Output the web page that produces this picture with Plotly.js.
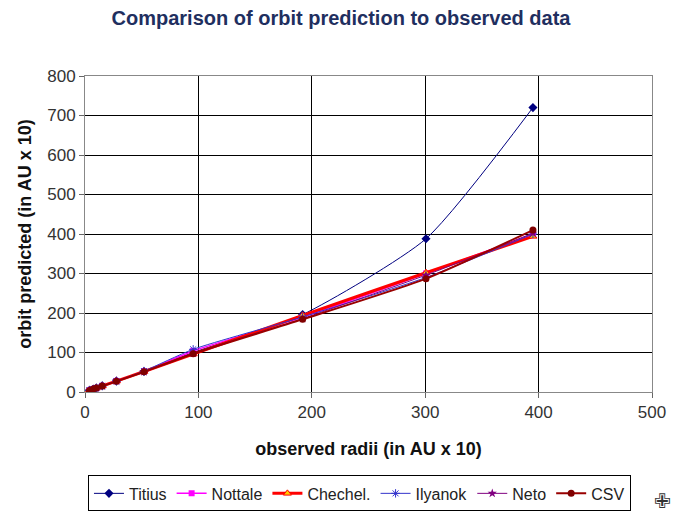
<!DOCTYPE html>
<html>
<head>
<meta charset="utf-8">
<script src="https://cdn.plot.ly/plotly-3.0.1.min.js"></script>
<style>html,body{margin:0;padding:0;background:#fff;}#chart{width:682px;height:514px;}</style>
</head>
<body>
<div id="chart"></div>
<script>
// observed radii (AU x 10)
const observed = [3.9, 7.2, 10, 15.2, 27.7, 52, 95.4, 191.9, 300.7, 395];
const titius   = [4, 7, 10, 16, 28, 52, 100, 196, 388, 720];
const nottale  = [4, 7.5, 10, 15.5, 28, 52, 104, 190, 300, 400];
const chechel  = [3.9, 7.2, 10, 15.2, 27.7, 52, 96, 194, 302, 394];
const ilyanok  = [4, 7, 10, 15, 27, 53, 108, 190, 290, 400];
const neto     = [4, 7.2, 10, 15, 28, 51, 98, 186, 296, 402];
const csv      = [3.9, 7.3, 10, 15, 27, 51, 97, 184, 287, 410];
const seriesNames = ["Titius", "Nottale", "Chechel.", "Ilyanok", "Neto", "CSV"];

const styles = [
  {color:'#000080', width:1, marker:{symbol:'diamond', size:7, color:'#000080'}},
  {color:'#FF00FF', width:1.5, marker:{symbol:'square', size:6, color:'#FF00FF'}},
  {color:'#FF0000', width:3, marker:{symbol:'triangle-up', size:7, color:'#FFCC00', line:{color:'#FF0000', width:1}}},
  {color:'#3333CC', width:1, marker:{symbol:'asterisk-open', size:7, color:'#3333CC', line:{color:'#3333CC', width:1}}},
  {color:'#800080', width:1, marker:{symbol:'star', size:7, color:'#800080'}},
  {color:'#990000', width:2, marker:{symbol:'circle', size:7, color:'#800000'}}
];
const values = [titius, nottale, chechel, ilyanok, neto, csv];

const traces = values.map((v, i) => ({
  type: 'scatter', mode: 'lines+markers',
  x: observed, y: v, name: seriesNames[i],
  line: {color: styles[i].color, width: styles[i].width, shape: 'spline', smoothing: 0.6},
  marker: styles[i].marker
}));

const layout = {
  width: 682, height: 514,
  margin: {l: 85, r: 30, t: 76, b: 122, autoexpand: false},
  paper_bgcolor: '#fff', plot_bgcolor: '#fff',
  font: {family: 'Liberation Sans, Arial, sans-serif', color: '#222'},
  title: {text: 'Comparison of orbit prediction to observed data', x: 0.5, xanchor: 'center', y: 0.965, yanchor: 'middle',
          font: {size: 20, color: '#1F2F5F', family: 'Liberation Sans, Arial, sans-serif', weight: 'bold'}},
  xaxis: {range: [0, 500], dtick: 100, tick0: 0, showgrid: true, gridcolor: '#000', gridwidth: 1,
          zeroline: false, showline: true, linecolor: '#888', linewidth: 1, mirror: true,
          ticks: 'outside', ticklen: 5, tickcolor: '#666', tickfont: {size: 17, color: '#333'},
          title: {text: 'observed radii (in AU x 10)', standoff: 20, font: {size: 18, color: '#111', weight: 'bold'}}},
  yaxis: {range: [0, 800], dtick: 100, tick0: 0, showgrid: true, gridcolor: '#000', gridwidth: 1,
          zeroline: false, showline: true, linecolor: '#888', linewidth: 1, mirror: true,
          ticks: 'outside', ticklen: 5, tickcolor: '#666', tickfont: {size: 17, color: '#333'},
          title: {text: 'orbit predicted (in AU x 10)', standoff: 10, font: {size: 18, color: '#111', weight: 'bold'}}},
  legend: {orientation: 'h', xref: 'container', yref: 'container', x: 0.129, xanchor: 'left', y: 0.075, yanchor: 'top',
           bordercolor: '#000', borderwidth: 1, bgcolor: '#fff',
           font: {size: 16, color: '#222'}, itemwidth: 30, tracegroupgap: 0},
  showlegend: true,
  annotations: [{text: '✙', xref: 'paper', yref: 'paper', x: 1.0, y: -0.345, xanchor: 'left', yanchor: 'middle',
                 showarrow: false, font: {size: 20, color: '#333', family: 'DejaVu Sans'}}]
};

Plotly.newPlot('chart', traces, layout, {displayModeBar: false, staticPlot: true});
</script>
</body>
</html>
